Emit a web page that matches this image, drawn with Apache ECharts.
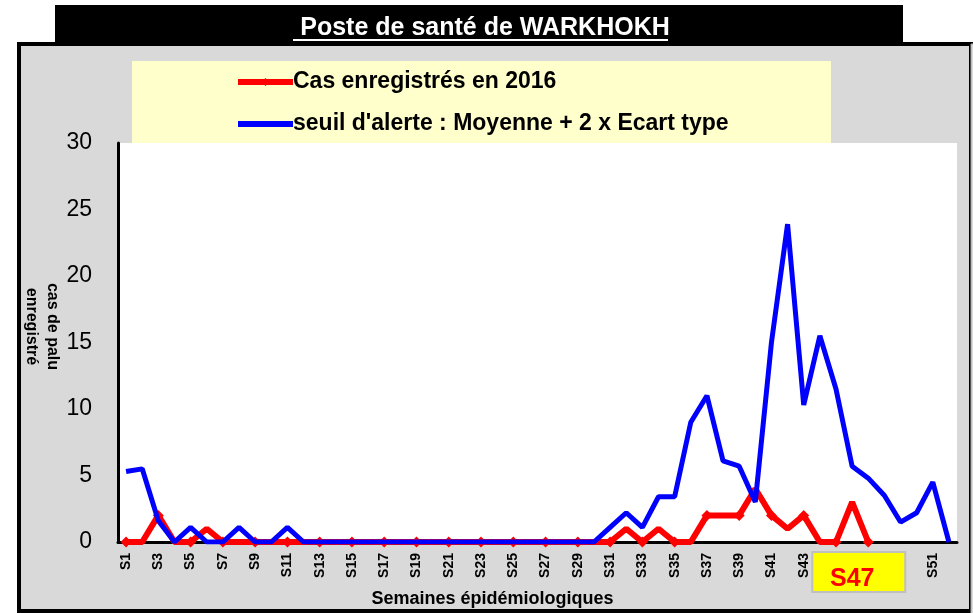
<!DOCTYPE html>
<html>
<head>
<meta charset="utf-8">
<script src="https://cdn.jsdelivr.net/npm/echarts@6/dist/echarts.min.js"></script>
<style>html,body{margin:0;padding:0;background:#fff;}#c{width:973px;height:613px;}</style>
</head>
<body>
<div id="c"></div>
<script>
const weeks = [];
for (let i = 1; i <= 52; i++) weeks.push('S' + i);
const cas2016 = [0,0,2,0,0,1,0,0,0,0, 0,0,0,0,0,0,0,0,0,0, 0,0,0,0,0,0,0,0,0,0, 0,1,0,1,0,0,2,2,2,4, 2,1,2,0,0,3,0];
const seuil = [5.3,5.5,1.6,0,1.1,0,0,1.1,0,0, 1.1,0,0,0,0,0,0,0,0,0, 0,0,0,0,0,0,0,0,0,0, 1.1,2.2,1.1,3.4,3.4,9,11,6.1,5.7,3.0, 15,23.9,10.3,15.5,11.5,5.7,4.8,3.5,1.5,2.2, 4.5,0];
const yTicks = [0,5,10,15,20,25,30];
const highlightWeek = 'S47';
const FONT = '"Liberation Sans", Arial, sans-serif';

const chart = echarts.init(document.getElementById('c'));
const option = {
  backgroundColor: '#ffffff',
  animation: false,
  title: {
    text: 'Poste de santé de WARKHOKH',
    left: 480, top: 11, textAlign: 'center',
    textStyle: { color: '#ffffff', fontFamily: FONT, fontWeight: 'bold', fontSize: 25 }
  },
  graphic: [
    { type: 'rect', z: -10, shape: { x: 55, y: 5, width: 848, height: 40 }, style: { fill: '#000' } },
    { type: 'rect', z: -9, shape: { x: 19, y: 44, width: 952, height: 567 }, style: { fill: '#d9d9d9', stroke: '#000', lineWidth: 4 } },
    { type: 'rect', z: -8, shape: { x: 971, y: 44, width: 4, height: 570 }, style: { fill: '#d9d9d9', stroke: '#a6a6a6', lineWidth: 1 } },
    { type: 'rect', z: -7, shape: { x: 132, y: 61, width: 699, height: 82 }, style: { fill: '#ffffcc' } },
    { type: 'line', z: 5, shape: { x1: 293, y1: 40, x2: 668, y2: 40 }, style: { stroke: '#fff', lineWidth: 2 } }
  ],
  legend: {
    orient: 'vertical',
    left: 230, top: 64,
    itemWidth: 55, itemHeight: 10, itemGap: 16,
    textStyle: { fontFamily: FONT, fontWeight: 'bold', fontSize: 23, lineHeight: 26, color: '#000', padding: [0,0,0,-5] },
    data: [
      { name: 'Cas enregistrés en 2016', lineStyle: { width: 6 } },
      { name: "seuil d'alerte : Moyenne + 2 x Ecart type", lineStyle: { width: 6 }, itemStyle: { opacity: 0 } }
    ]
  },
  grid: { left: 118, right: 16, top: 143, bottom: 70, show: true, backgroundColor: '#fff', borderWidth: 0 },
  xAxis: {
    type: 'category', data: weeks, boundaryGap: true,
    name: 'Semaines épidémiologiques', nameLocation: 'middle', nameGap: 48,
    nameTextStyle: { fontFamily: FONT, fontWeight: 'bold', fontSize: 18, color: '#000', padding: [0, 90, 0, 0] },
    axisLine: { lineStyle: { color: '#000', width: 3 } },
    axisTick: { show: false },
    axisLabel: { interval: 1, rotate: 90, margin: 11, fontFamily: FONT, fontWeight: 'bold', fontSize: 14, color: '#000' },
    splitLine: { show: false }
  },
  yAxis: {
    type: 'value', min: yTicks[0], max: yTicks[yTicks.length-1], interval: 5,
    name: 'cas de palu\nenregistré', nameLocation: 'middle', nameGap: 55, nameRotate: -90, nameMoveOverlap: false,
    nameTextStyle: { fontFamily: FONT, fontWeight: 'bold', fontSize: 16, color: '#000', lineHeight: 21, padding: [0,32,0,0] },
    axisLine: { show: true, lineStyle: { color: '#000', width: 3 } },
    axisTick: { show: false },
    axisLabel: { margin: 26, fontFamily: FONT, fontSize: 23, color: '#000' },
    splitLine: { show: false }
  },
  series: [
    {
      name: 'Cas enregistrés en 2016', type: 'line', data: cas2016, z: 3,
      symbol: 'diamond', symbolSize: 11, showSymbol: true,
      lineStyle: { color: '#ff0000', width: 6 },
      itemStyle: { color: '#ff0000' }
    },
    {
      name: "seuil d'alerte : Moyenne + 2 x Ecart type", type: 'line', data: seuil, z: 4,
      symbol: 'none',
      lineStyle: { color: '#0000ff', width: 5 },
      itemStyle: { color: '#0000ff' }
    }
  ]
};
chart.setOption(option);
const px = chart.convertToPixel({ xAxisIndex: 0 }, highlightWeek);
chart.setOption({
  graphic: option.graphic.concat([
    { type: 'rect', z: 20, shape: { x: px - 56, y: 552, width: 93, height: 40 }, style: { fill: '#ffff00', stroke: '#bfbfbf', lineWidth: 2 } },
    { type: 'text', z: 21, x: px - 16, y: 579, style: { text: highlightWeek, fill: '#ff0000', font: 'bold 25px ' + FONT, textAlign: 'center', textVerticalAlign: 'middle' } }
  ])
});
</script>
</body>
</html>
